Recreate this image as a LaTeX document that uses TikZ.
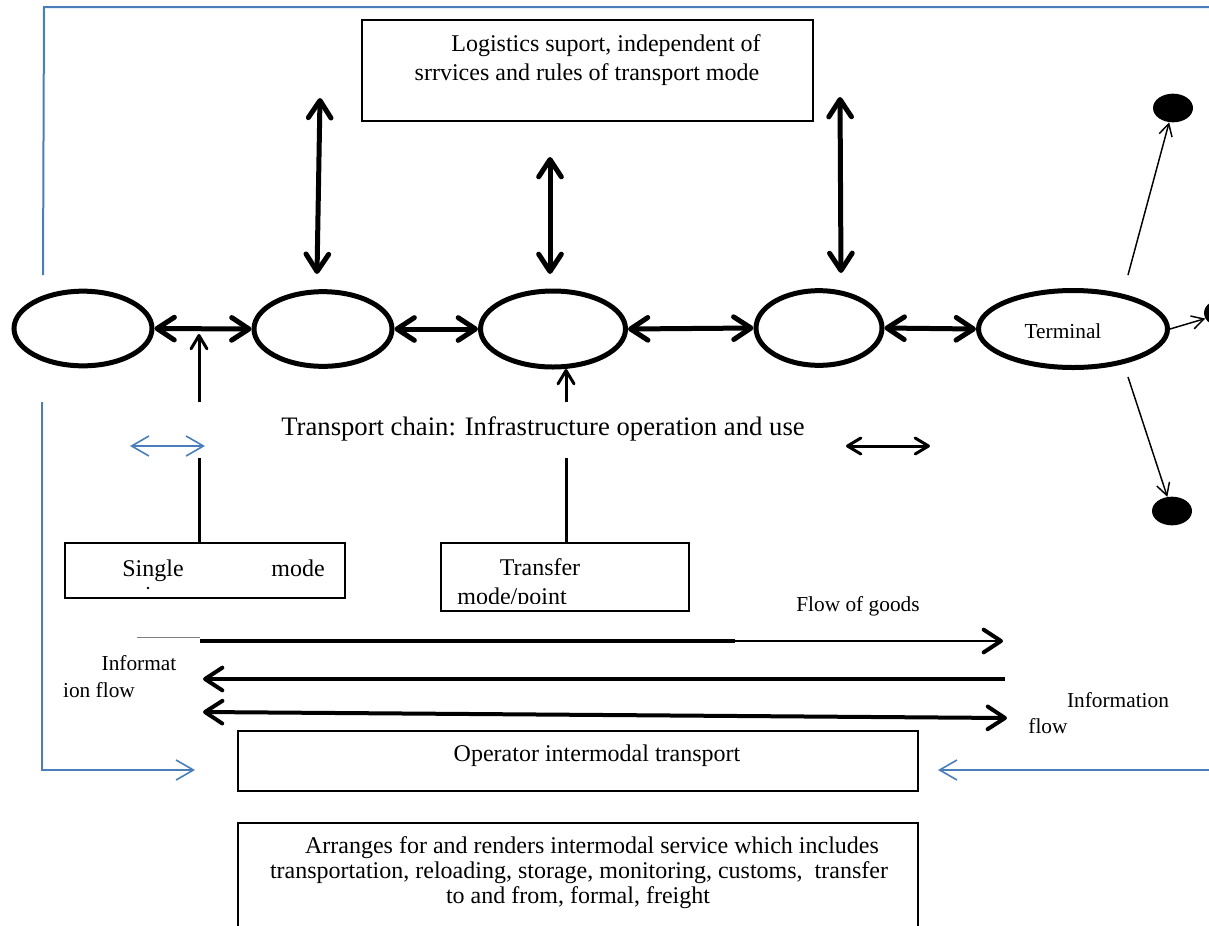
\documentclass[tikz,border=0pt]{standalone}
\usepackage{fontspec}
\setmainfont{Liberation Serif}
\usetikzlibrary{arrows.meta,shapes.geometric}
\definecolor{frameblue}{HTML}{4A7EBB}
\begin{document}
\begin{tikzpicture}[x=0.75pt,y=-0.75pt,
  ell/.style={draw,ellipse,line width=3.75pt,inner sep=0pt},
  dot/.style={fill=black,ellipse,inner sep=0pt,minimum width=30pt,minimum height=21.5pt},
  box/.style={draw,line width=0.9pt,rectangle,inner sep=0pt},
  bigtip/.tip={Straight Barb[length=13pt,width=17pt,round,line width=3.75pt]},
  midtip/.tip={Straight Barb[length=10pt,width=12pt,round,line width=2.25pt]},
  flowtip/.tip={Straight Barb[length=13pt,width=17pt,round,line width=3pt]},
  thintip/.tip={Straight Barb[length=9pt,width=10pt,line width=1.1pt]},
  bluetip/.tip={Straight Barb[length=13pt,width=15pt,line width=1.2pt]},
  thickdbl/.style={line width=3.75pt,bigtip-bigtip},
  midarrow/.style={line width=2.25pt,-midtip},
  flowline/.style={line width=3pt},
  thinarrow/.style={line width=1.1pt,-thintip},
  blueline/.style={line width=1.5pt,frameblue},
  main/.style={font=\fontsize{18}{21}\selectfont,inner sep=0pt},
  small/.style={font=\fontsize{16}{19}\selectfont,inner sep=0pt}
]
\useasboundingbox (0,0) rectangle (1209,925);

% blue frame
\draw[blueline] (43,275) -- (44,7) -- (1209,7);
\coordinate (bl1) at (42,402);
\coordinate (bl2) at (195,770);
\draw[blueline,-bluetip] (bl1) -- (42,770) -- (bl2);
\coordinate (br1) at (1209,770);
\coordinate (br2) at (938,770);
\draw[blueline,-bluetip] (br1) -- (br2);
\coordinate (bd1) at (130,446);
\coordinate (bd2) at (205,446);
\draw[line width=1.2pt,frameblue,bluetip-bluetip] (bd1) -- (bd2);

% top box
\node[box,minimum width=338.25pt,minimum height=75.75pt] (logbox) at (587.5,70.5) {};
\node[main] (log1) at (606,46) {Logistics suport, independent of};
\node[main] (log2) at (587,75) {srrvices and rules of transport mode};

% ellipses
\node[ell,minimum width=103.5pt,minimum height=56pt] (e1) at (83,328.5) {};
\node[ell,minimum width=103.5pt,minimum height=56pt] (e2) at (323,329) {};
\node[ell,minimum width=108.75pt,minimum height=57pt] (e3) at (553,329) {};
\node[ell,minimum width=94.5pt,minimum height=56pt] (e4) at (819,328) {};
\node[ell,minimum width=141.75pt,minimum height=57.75pt] (e5) at (1073,329) {};
\node[inner sep=0pt,font=\fontsize{16}{19}\selectfont] (termt) at (1063,331) {Terminal};

\draw[thickdbl] (e1.east) -- (e2.west);
\draw[thickdbl] (e2.east) -- (e3.west);
\draw[thickdbl] (e3.east) -- (e4.west);
\draw[thickdbl] (e4.east) -- (e5.west);

% vertical double arrows
\coordinate (v1t) at (320,98);  \coordinate (v1b) at (317,274);
\coordinate (v2t) at (550,157); \coordinate (v2b) at (550,274);
\coordinate (v3t) at (840,97);  \coordinate (v3b) at (841,273);
\draw[thickdbl] (v1t) -- (v1b);
\draw[thickdbl] (v2t) -- (v2b);
\draw[thickdbl] (v3t) -- (v3b);

% up arrows and stems
\coordinate (u1s) at (199,402); \coordinate (u1e) at (199,334);
\coordinate (u2s) at (566,402); \coordinate (u2e) at (566,369);
\draw[midarrow] (u1s) -- (u1e);
\draw[midarrow] (u2s) -- (u2e);

\node[inner sep=0pt,font=\fontsize{20}{23}\selectfont] (chain) at (543,429) {Transport chain: Infrastructure operation and use};
\coordinate (bk1) at (846,446); \coordinate (bk2) at (930,446);
\draw[line width=2.25pt,midtip-midtip] (bk1) -- (bk2);

% boxes
\node[box,minimum width=210pt,minimum height=41.25pt] (single) at (205,570.5) {};
\node[main,anchor=base] (singlet) at (153,576) {Single};
\node[main,anchor=base] (modet) at (298,576) {mode};
\fill (148,588) circle[radius=1.1pt];
\node[box,minimum width=186pt,minimum height=51pt] (transfer) at (565,577) {};
\node[main,anchor=base] (transt) at (540,575) {Transfer};
\begin{scope}
\clip (441,543) rectangle (689,603);
\node[main,anchor=base] (modept) at (512,604) {mode/point};
\end{scope}

\coordinate (s1) at (199,458);
\coordinate (s2) at (566,458);
\draw[line width=2.25pt] (s1) -- (s1 |- single.north);
\draw[line width=2.25pt] (s2) -- (s2 |- transfer.north);

% terminal arrows and dots
\node[dot] (dot1) at (1173,108) {};
\node[dot] (dot2) at (1224,313) {};
\node[dot] (dot3) at (1172,511) {};
\coordinate (t1) at (1128,275);
\coordinate (t3) at (1128,377);
\draw[thinarrow] (t1) -- (dot1);
\draw[thinarrow] (e5.east) -- (dot2);
\draw[thinarrow] (t3) -- (dot3);

% flows
\node[small] (goods) at (858,606) {Flow of goods};
\coordinate (g0) at (137,637); \coordinate (g1) at (200,637);
\draw[line width=0.6pt,gray] (g0) -- (g1);
\coordinate (f1a) at (200,641); \coordinate (f1b) at (735,641); \coordinate (f1c) at (1003,641);
\draw[flowline] (f1a) -- (f1b);
\draw[line width=1.5pt,-flowtip] (f1b) -- (f1c);
\coordinate (f2a) at (1005,679); \coordinate (f2b) at (203,679);
\draw[flowline,-flowtip] (f2a) -- (f2b);
\coordinate (f3a) at (203,712); \coordinate (f3b) at (1007,718);
\draw[flowline,flowtip-flowtip] (f3a) -- (f3b);

\node[small] (inf1) at (139,663) {Informat};
\node[small] (inf2) at (99,690) {ion flow};
\node[small] (inf3) at (1118,700) {Information};
\node[small] (inf4) at (1048,726) {flow};

% operator boxes
\node[box,minimum width=510pt,minimum height=45pt] (oper) at (578,761) {};
\node[main] (opert) at (597,756) {Operator intermodal transport};
\node[box,minimum width=510pt,minimum height=90pt] (arr) at (578,883) {};
\node[main] (arr1) at (592,848) {Arranges for and renders intermodal service which includes};
\node[main] (arr2) at (579,873) {transportation, reloading, storage, monitoring, customs,\ \ transfer};
\node[main] (arr3) at (578,898) {to and from, formal, freight};
\end{tikzpicture}
\end{document}
